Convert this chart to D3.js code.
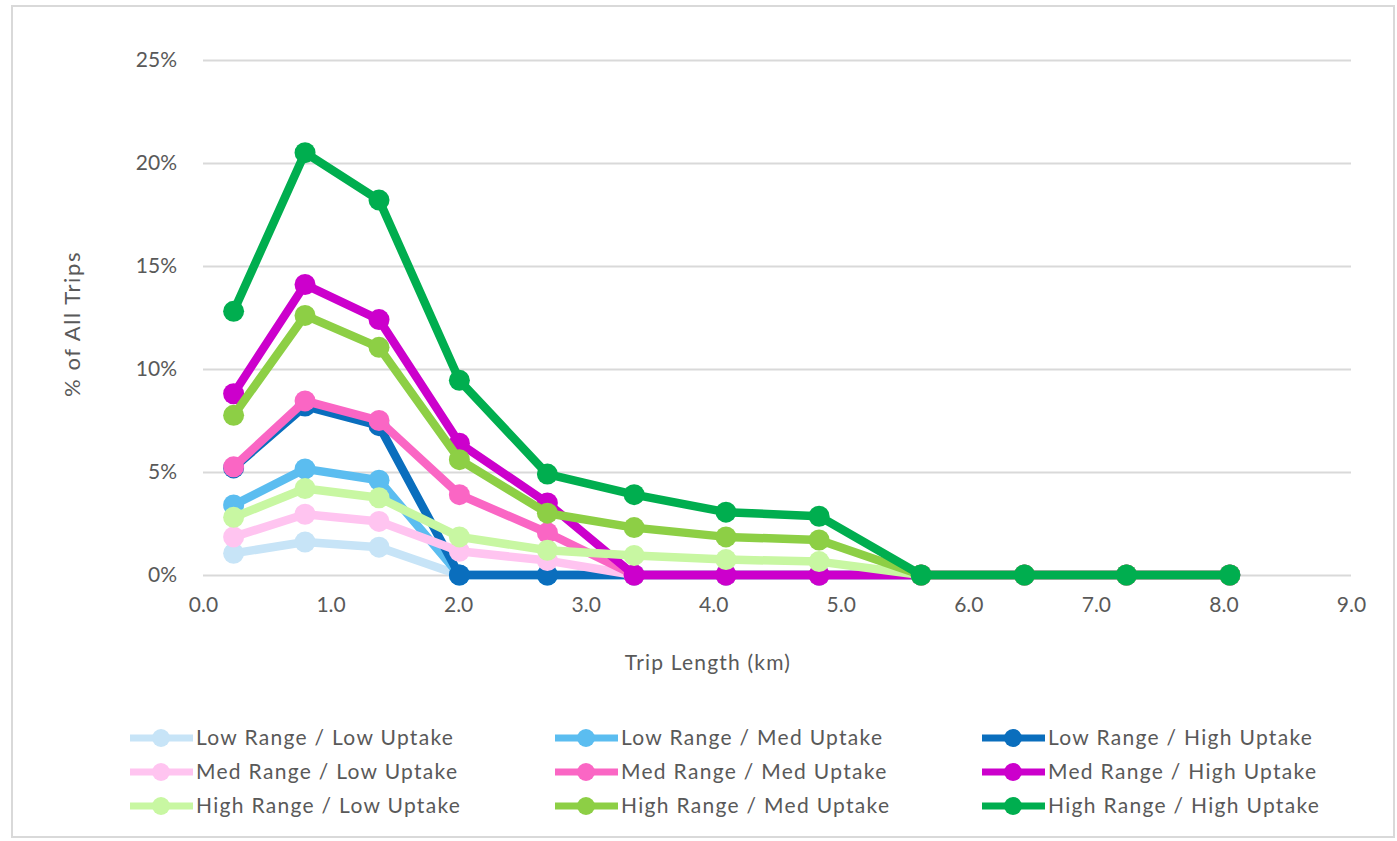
<!DOCTYPE html>
<html>
<head>
<meta charset="utf-8">
<script src="https://cdn.jsdelivr.net/npm/d3@7"></script>
<style>
  html, body { margin: 0; padding: 0; background: #fff; }
  svg { display: block; font-family: Lato, "Open Sans", sans-serif; }
</style>
</head>
<body>
<svg id="chart" width="1397" height="841"></svg>
<script>
// ---- data ----
const tripKm = [0.24, 0.80, 1.38, 2.01, 2.70, 3.38, 4.10, 4.83, 5.63, 6.44, 7.24, 8.05];
const seriesNames = [
  "Low Range / Low Uptake", "Low Range / Med Uptake", "Low Range / High Uptake",
  "Med Range / Low Uptake", "Med Range / Med Uptake", "Med Range / High Uptake",
  "High Range / Low Uptake", "High Range / Med Uptake", "High Range / High Uptake"
];
const lowLow   = [1.05, 1.6, 1.35, 0, 0, 0, 0, 0, 0, 0, 0, 0];
const lowMed   = [3.4, 5.15, 4.6, 0, 0, 0, 0, 0, 0, 0, 0, 0];
const lowHigh  = [5.2, 8.2, 7.25, 0, 0, 0, 0, 0, 0, 0, 0, 0];
const medLow   = [1.85, 2.95, 2.6, 1.15, 0.7, 0, 0, 0, 0, 0, 0, 0];
const medMed   = [5.25, 8.45, 7.5, 3.9, 2.05, 0, 0, 0, 0, 0, 0, 0];
const medHigh  = [8.8, 14.1, 12.4, 6.4, 3.5, 0, 0, 0, 0, 0, 0, 0];
const highLow  = [2.8, 4.2, 3.75, 1.85, 1.2, 0.95, 0.75, 0.65, 0, 0, 0, 0];
const highMed  = [7.75, 12.6, 11.05, 5.6, 3.0, 2.3, 1.85, 1.7, 0, 0, 0, 0];
const highHigh = [12.8, 20.5, 18.2, 9.45, 4.9, 3.9, 3.05, 2.85, 0, 0, 0, 0];
const seriesValues = [lowLow, lowMed, lowHigh, medLow, medMed, medHigh, highLow, highMed, highHigh];
const seriesColors = ["#C7E4F7", "#5BBDF0", "#0A6EBD", "#FFC4F0", "#FA66C4", "#CC00CC", "#C8F7A2", "#8DCF45", "#00AE4F"];
const xTicks = [0, 1, 2, 3, 4, 5, 6, 7, 8, 9];
const yTicks = [0, 5, 10, 15, 20, 25];
const xTitle = "Trip Length (km)";
const yTitle = "% of All Trips";

// ---- layout ----
const svg = d3.select("#chart");
const x = d3.scaleLinear().domain([0, 9]).range([203, 1351]);
const y = d3.scaleLinear().domain([0, 25]).range([575, 60]);
const textColor = "#595959";
const gridColor = "#D9D9D9";

// chart border
svg.append("rect").attr("x", 12).attr("y", 6).attr("width", 1382).attr("height", 831)
  .attr("fill", "#fff").attr("stroke", gridColor).attr("stroke-width", 2);

// y axis (gridlines + labels)
const yAxis = d3.axisLeft(y).tickValues(yTicks).tickSize(-(x.range()[1] - x.range()[0]))
  .tickPadding(26).tickFormat(d => d + "%");
const gy = svg.append("g").attr("transform", `translate(${x.range()[0]},0)`).call(yAxis);
gy.select(".domain").remove();
gy.selectAll(".tick line").attr("stroke", gridColor).attr("stroke-width", 2);
gy.selectAll(".tick text").attr("fill", textColor).style("font-size", "21px")
  .style("font-family", "Lato, sans-serif");

// x axis
const xAxis = d3.axisBottom(x).tickValues(xTicks).tickSize(0).tickPadding(22).tickFormat(d3.format(".1f"));
const gx = svg.append("g").attr("transform", `translate(0,${y(0)})`).call(xAxis);
gx.select(".domain").remove();
gx.selectAll(".tick text").attr("fill", textColor).style("font-size", "21px")
  .style("font-family", "Lato, sans-serif");

// axis titles
svg.append("text").attr("x", 708).attr("y", 670).attr("text-anchor", "middle")
  .attr("fill", textColor).style("font-size", "21px").style("letter-spacing", "1.2px").text(xTitle);
svg.append("text").attr("transform", "translate(80,324) rotate(-90)").attr("text-anchor", "middle")
  .attr("fill", textColor).style("font-size", "22px").style("letter-spacing", "1.6px").text(yTitle);

// series
const line = d3.line().x((d, i) => x(tripKm[i])).y(d => y(d));
seriesValues.forEach((vals, si) => {
  const g = svg.append("g");
  g.append("path").datum(vals).attr("d", line).attr("fill", "none")
    .attr("stroke", seriesColors[si]).attr("stroke-width", 8.5).attr("stroke-linejoin", "round");
  g.selectAll("circle").data(vals).join("circle")
    .attr("cx", (d, i) => x(tripKm[i])).attr("cy", d => y(d)).attr("r", 10.5)
    .attr("fill", seriesColors[si]);
});

// legend
const legCols = [130, 555, 982];
const legRows = [738, 772, 806];
seriesNames.forEach((name, i) => {
  const cx = legCols[i % 3], cy = legRows[Math.floor(i / 3)];
  const g = svg.append("g").attr("transform", `translate(${cx},${cy})`);
  g.append("line").attr("x1", 0).attr("x2", 63).attr("y1", 0).attr("y2", 0)
    .attr("stroke", seriesColors[i]).attr("stroke-width", 7);
  g.append("circle").attr("cx", 31).attr("cy", 0).attr("r", 9).attr("fill", seriesColors[i]);
  g.append("text").attr("x", 66).attr("y", 0).attr("dy", "0.35em")
    .attr("fill", textColor).style("font-size", "21px").style("letter-spacing", "1.3px").text(name);
});
</script>
</body>
</html>
